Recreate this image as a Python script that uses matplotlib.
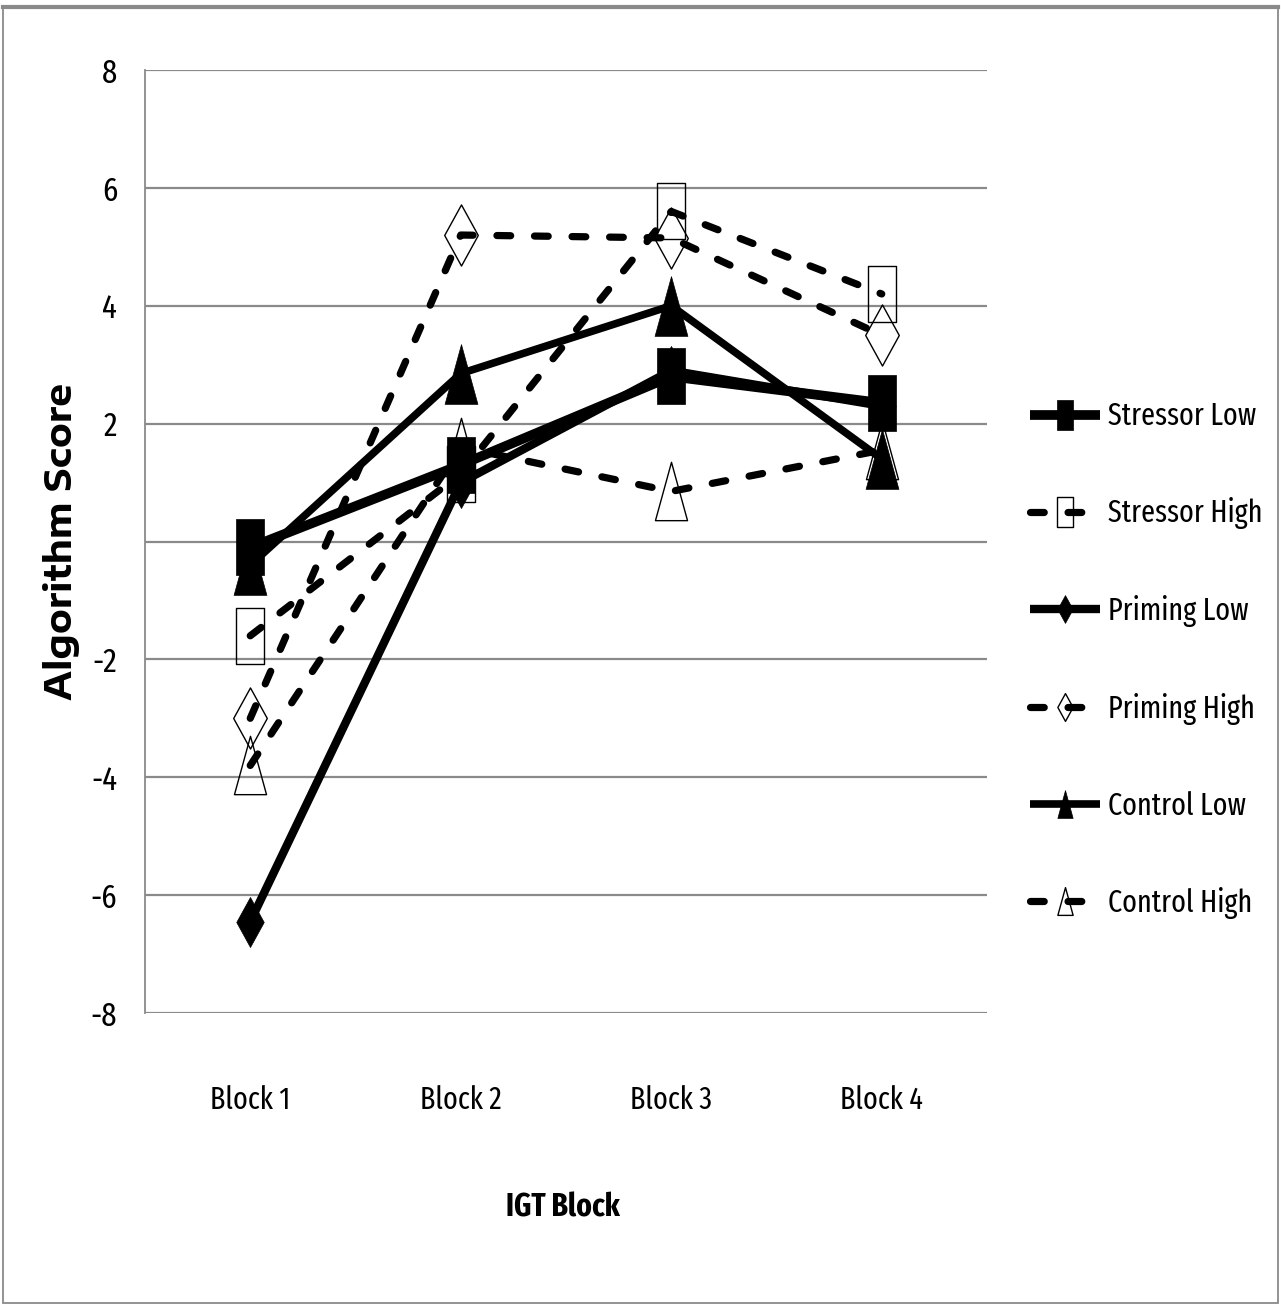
import matplotlib
matplotlib.use("Agg")
import matplotlib.pyplot as plt
from matplotlib.path import Path
from matplotlib.lines import Line2D
from matplotlib.patches import Rectangle

# IGT algorithm scores per block for each condition / level
blocks = ["Block 1", "Block 2", "Block 3", "Block 4"]
stressor_low = [-0.1, 1.3, 2.8, 2.35]
stressor_high = [-1.6, 1.15, 5.6, 4.2]
priming_low = [-6.45, 1.0, 2.9, 2.3]
priming_high = [-3.0, 5.2, 5.15, 3.5]
control_low = [-0.4, 2.85, 4.0, 1.4]
control_high = [-3.8, 1.6, 0.85, 1.55]

y_ticks = [-8, -6, -4, -2, 0, 2, 4, 6, 8]
y_tick_labels = ["-8", "-6", "-4", "-2", "", "2", "4", "6", "8"]

narrow = ["Fira Sans Extra Condensed", "PT Sans Narrow", "DejaVu Sans"]
wide = ["Encode Sans Expanded", "DejaVu Sans"]

# tall markers (the chart is stretched vertically)
rect = Path([(-0.5, -1), (0.5, -1), (0.5, 1), (-0.5, 1), (-0.5, -1)],
            [Path.MOVETO, Path.LINETO, Path.LINETO, Path.LINETO, Path.CLOSEPOLY])
diamond = Path([(0, 1), (0.55, 0), (0, -1), (-0.55, 0), (0, 1)],
               [Path.MOVETO, Path.LINETO, Path.LINETO, Path.LINETO, Path.CLOSEPOLY])
triangle = Path([(0, 1), (0.55, -1), (-0.55, -1), (0, 1)],
                [Path.MOVETO, Path.LINETO, Path.LINETO, Path.CLOSEPOLY])

dash = (0, (1.9, 3.3))

series = [
    ("Stressor Low", stressor_low, rect, "-", 7.0, True, 40, 22),
    ("Stressor High", stressor_high, rect, dash, 5.2, False, 40, 22),
    ("Priming Low", priming_low, diamond, "-", 6.0, True, 36, 20),
    ("Priming High", priming_high, diamond, dash, 5.2, False, 44, 20),
    ("Control Low", control_low, triangle, "-", 5.5, True, 43, 20),
    ("Control High", control_high, triangle, dash, 5.2, False, 42, 20),
]

fig = plt.figure(figsize=(12.81, 13.05), dpi=100)
ax = fig.add_axes([145 / 1281, 1 - 1013 / 1305, 842 / 1281, 943 / 1305])

x = list(range(len(blocks)))
handles = []
for i, (name, vals, mk, ls, lw, filled, ms, legend_ms) in enumerate(series):
    face = "black" if filled else "none"
    ax.plot(x, vals, color="black", linestyle=ls, linewidth=lw,
            dash_capstyle="round", solid_capstyle="round",
            marker=mk, markersize=ms, markerfacecolor=face,
            markeredgecolor="black", markeredgewidth=1.0 if not filled else 0.5,
            zorder=10 - i)
    handles.append(Line2D([], [], color="black", linestyle=ls, linewidth=lw,
                          dash_capstyle="round", solid_capstyle="butt",
                          marker=mk, markersize=legend_ms, markerfacecolor=face,
                          markeredgecolor="black",
                          markeredgewidth=1.0 if not filled else 0.5,
                          label=name))

ax.set_xlim(-0.5, 3.5)
ax.set_ylim(-8, 8)
ax.set_yticks(y_ticks)
ax.set_yticklabels(y_tick_labels)
ax.set_xticks(x)
ax.set_xticklabels(blocks)
ax.tick_params(axis="both", length=0, labelsize=22, colors="black")
ax.tick_params(axis="y", labelsize=24, pad=20)
ax.tick_params(axis="x", pad=52)
for lab in ax.get_xticklabels() + ax.get_yticklabels():
    lab.set_family(narrow)

ax.yaxis.grid(True, color="#8a8a8a", linewidth=1.6)
ax.set_axisbelow(True)
for side in ["top", "right", "bottom"]:
    ax.spines[side].set_visible(False)
ax.spines["left"].set_color("#8a8a8a")
ax.spines["left"].set_linewidth(1.3)

ax.set_xlabel("IGT Block", fontsize=23, fontweight="bold", family=narrow,
              va="center")
ax.xaxis.set_label_coords(0.496, -0.207)
ax.set_ylabel("Algorithm Score", fontsize=26, fontweight="bold",
              family=wide, va="center")
ax.yaxis.set_label_coords(-0.099, 0.5)

leg = ax.legend(handles=handles, loc="center left",
                bbox_to_anchor=(1030 / 1281, 1 - 660 / 1305),
                bbox_transform=fig.transFigure, frameon=False,
                fontsize=22, handlelength=2.3, handletextpad=0.24,
                labelspacing=2.15, borderpad=0, borderaxespad=0)
for t in leg.get_texts():
    t.set_family(narrow)

# outer frame
fig.add_artist(Rectangle((3 / 1281, 2 / 1305), 1275 / 1281, 1296 / 1305,
                         transform=fig.transFigure, fill=False,
                         edgecolor="#8a8a8a", linewidth=1.3))
fig.add_artist(Line2D([3 / 1281, 1278 / 1281], [1 - 7 / 1305, 1 - 7 / 1305],
                      transform=fig.transFigure, color="#8a8a8a", linewidth=3))

fig.savefig("out.png", dpi=100)
